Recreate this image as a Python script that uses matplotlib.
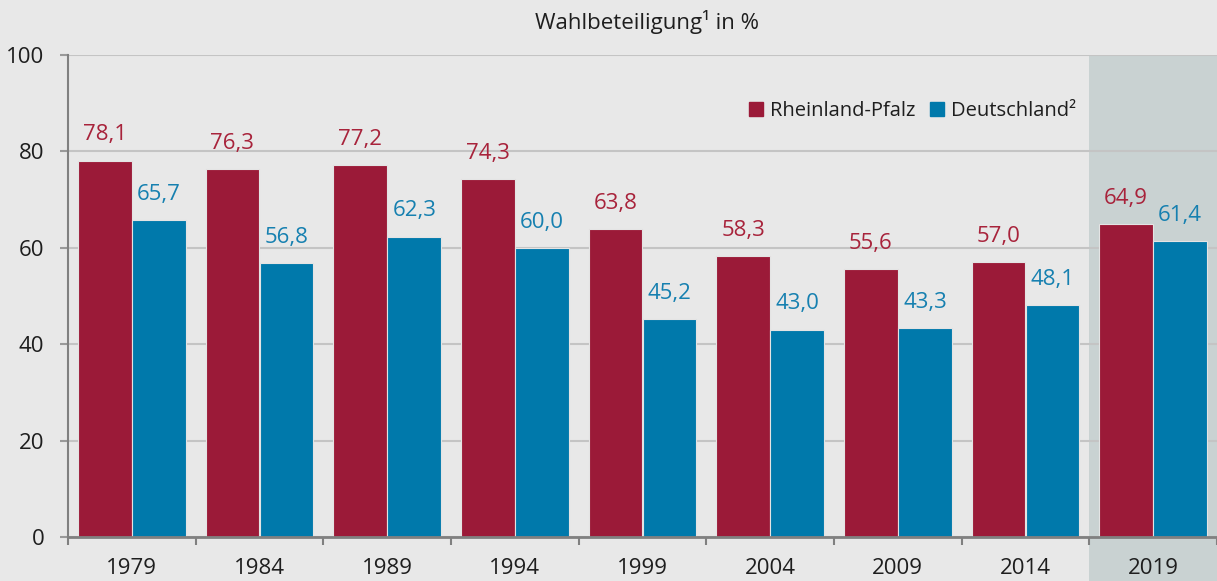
import numpy as np
import matplotlib.pyplot as plt
from matplotlib.patches import Rectangle
from matplotlib.lines import Line2D
import matplotlib.transforms as mtransforms

plt.rcParams['font.family'] = ['Open Sans', 'DejaVu Sans']

years = ['1979', '1984', '1989', '1994', '1999', '2004', '2009', '2014', '2019']
rlp = [78.1, 76.3, 77.2, 74.3, 63.8, 58.3, 55.6, 57.0, 64.9]
de = [65.7, 56.8, 62.3, 60.0, 45.2, 43.0, 43.3, 48.1, 61.4]

red = '#9b1a38'
blue = '#0079ab'
red_txt = '#a8233b'
blue_txt = '#1680b0'
bg = '#e8e8e8'
txt = '#1e1e1e'

fig = plt.figure(figsize=(12.17, 5.81), dpi=100, facecolor=bg)
ax = fig.add_axes([68/1217, 44/581, 1149/1217, 482/581])
ax.set_facecolor(bg)

x = np.arange(len(years)) + 0.5
w = 0.42

# highlight last year, reaching down below the axis
trans = mtransforms.blended_transform_factory(ax.transData, ax.transAxes)
ax.add_patch(Rectangle((8, -44/482), 1, 1 + 44/482, transform=trans,
                       facecolor='#c9d2d2', edgecolor='none', zorder=0, clip_on=False))

ax.bar(x - 0.212, rlp, w, color=red, edgecolor='#e4e4e4', linewidth=0.8, zorder=3)
ax.bar(x + 0.212, de, w, color=blue, edgecolor='#e4e4e4', linewidth=0.8, zorder=3)

for xi, v in zip(x, rlp):
    ax.annotate(f'{v:.1f}'.replace('.', ','), (xi - 0.212, v), xytext=(0, 11),
                textcoords='offset points', ha='center', va='bottom',
                color=red_txt, fontsize=16)
for xi, v in zip(x, de):
    ax.annotate(f'{v:.1f}'.replace('.', ','), (xi + 0.212, v), xytext=(0, 11),
                textcoords='offset points', ha='center', va='bottom',
                color=blue_txt, fontsize=16)

ax.set_xlim(0, 9)
ax.set_ylim(0, 100)
ax.set_yticks([0, 20, 40, 60, 80, 100])
ax.yaxis.grid(True, color='#c4c4c4', linewidth=1.5, zorder=1)
ax.set_axisbelow(True)

ax.set_xticks(np.arange(10))
ax.set_xticklabels([])
ax.set_xticks(x, minor=True)
ax.set_xticklabels(years, minor=True)
ax.tick_params(axis='x', which='major', length=6, width=1.5, color='#808080', direction='out')
ax.tick_params(axis='x', which='minor', length=0, pad=15, labelsize=16, labelcolor=txt)
ax.tick_params(axis='y', length=6, width=1.5, color='#999999', pad=11,
               labelsize=16, labelcolor=txt)

for s in ['top', 'right']:
    ax.spines[s].set_visible(False)
ax.spines['left'].set_color('#808080')
ax.spines['left'].set_linewidth(1.5)
ax.spines['bottom'].set_color('#808080')
ax.spines['bottom'].set_linewidth(2)
ax.spines['bottom'].set_zorder(4)

handles = [Line2D([], [], marker='s', linestyle='none', color=red, markersize=10),
           Line2D([], [], marker='s', linestyle='none', color=blue, markersize=10)]
ax.legend(handles, ['Rheinland-Pfalz', 'Deutschland²'], ncol=2, frameon=False,
          loc='center right', bbox_to_anchor=(0.89, 0.884), fontsize=14.5,
          handletextpad=0.3, columnspacing=0.7, handlelength=0.8,
          labelcolor=txt, borderpad=0.2)

fig.text(647/1217, 1 - 22/581, 'Wahlbeteiligung¹ in %', ha='center', va='center',
         fontsize=16, color=txt)

fig.savefig('out.png', dpi=100, facecolor=bg)
